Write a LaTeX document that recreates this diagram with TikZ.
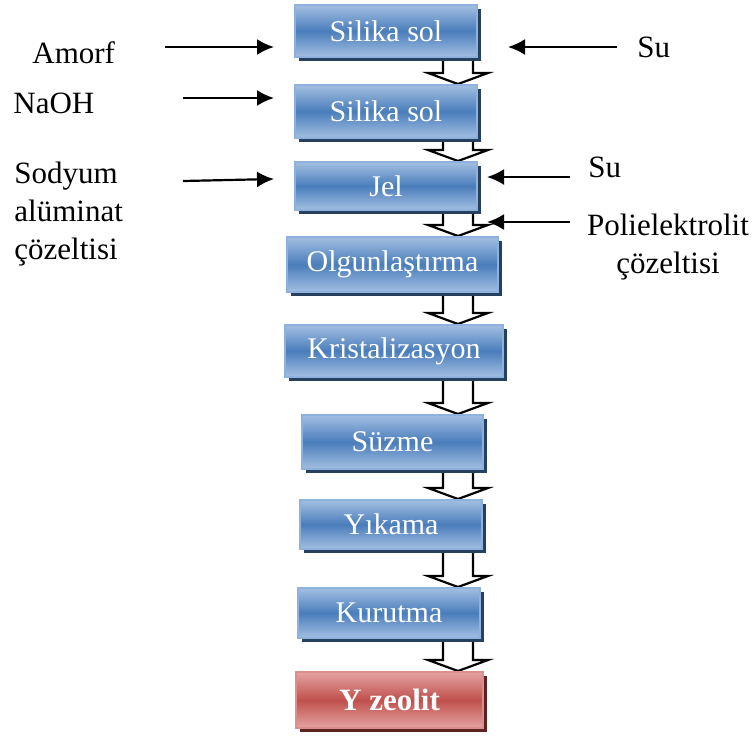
\documentclass[tikz,border=0pt]{standalone}
\usepackage{fontspec}
\setmainfont{Liberation Serif}
\usetikzlibrary{shadows,arrows.meta,backgrounds,calc}

\definecolor{kutuust}{HTML}{A3BFE2}
\definecolor{kutuorta}{HTML}{4A7DBB}
\definecolor{kutukenar}{HTML}{8EB1DD}
\definecolor{kutugolge}{HTML}{26405F}
\definecolor{sonucust}{HTML}{E4A3A2}
\definecolor{sonucorta}{HTML}{C0504D}
\definecolor{sonuckenar}{HTML}{DB8E8C}
\definecolor{sonucgolge}{HTML}{5E2321}

\tikzset{
	taban/.style={line width=1pt, inner sep=0pt, text=white},
	kutu/.style={taban, draw=kutukenar, top color=kutuust, bottom color=kutuust, middle color=kutuorta,
		font=\fontsize{15}{18}\selectfont,
		drop shadow={shadow xshift=2pt, shadow yshift=-2pt, fill=kutugolge, opacity=1}},
	sonuc/.style={taban, draw=sonuckenar, top color=sonucust, bottom color=sonucust, middle color=sonucorta,
		font=\fontsize{15.5}{18}\selectfont\bfseries,
		drop shadow={shadow xshift=2pt, shadow yshift=-2pt, fill=sonucgolge, opacity=1}},
	etiket/.style={inner sep=0pt, font=\fontsize{15.5}{19}\selectfont},
	giris/.style={line width=1.1pt, -{Latex[length=8.5pt,width=8pt]}},
	akis/.style={line width=1.1pt, fill=white}
}

% icı bos asagi ok: #1 ustteki kutu, #2 alttaki kutu
\newcommand{\akisok}[2]{%
	\draw[akis] (sl |- #1.center) -- ($(sl |- #2.north)+(0,-11)$) -- ($(hl |- #2.north)+(0,-11)$)
		-- (hm |- #2.north) -- ($(hr |- #2.north)+(0,-11)$) -- ($(sr |- #2.north)+(0,-11)$)
		-- (sr |- #1.center) -- cycle;}

\begin{document}
\begin{tikzpicture}[x=0.5pt, y=-0.5pt]
	\useasboundingbox (0,0) rectangle (756,735);

	% akis kutulari
	\node (k1) at (386,31) [kutu, minimum width=91pt, minimum height=26pt] {Silika sol};
	\node (k2) at (386,111.5) [kutu, minimum width=91pt, minimum height=26.5pt] {Silika sol};
	\node (k3) at (386,186) [kutu, minimum width=91pt, minimum height=24pt] {Jel};
	\node (k4) at (392.5,264.5) [kutu, minimum width=105.5pt, minimum height=27.5pt] {Olgunlaştırma};
	\node (k5) at (394,351) [kutu, minimum width=109pt, minimum height=26pt] {Kristalizasyon};
	\node (k6) at (392.5,442) [kutu, minimum width=90.5pt, minimum height=27pt] {Süzme};
	\node (k7) at (391,524.5) [kutu, minimum width=91pt, minimum height=24.5pt] {Yıkama};
	\node (k8) at (389,613) [kutu, minimum width=91pt, minimum height=25pt] {Kurutma};
	\node (k9) at (389.5,700) [sonuc, minimum width=93.5pt, minimum height=28pt] {Y zeolit};

	% girdiler
	\node (amorf) at (32,63) [etiket, anchor=base west] {Amorf};
	\node (naoh) at (13,113) [etiket, anchor=base west] {NaOH};
	\node (sodyum) at (14,214) [etiket, anchor=west, align=left] {Sodyum\\alüminat\\çözeltisi};
	\node (su1) at (637,57) [etiket, anchor=base west] {Su};
	\node (su2) at (588,177) [etiket, anchor=base west] {Su};
	\node (poli) at (668,247) [etiket, align=center] {Polielektrolit\\çözeltisi};

	\coordinate (a1) at (165,47);  \coordinate (a2) at (274,47);
	\coordinate (n1) at (183,98);  \coordinate (n2) at (274,98);
	\coordinate (s1) at (183,181); \coordinate (s2) at (274,179);
	\coordinate (u1) at (617,47);  \coordinate (u2) at (508,47);
	\coordinate (v1) at (570,177); \coordinate (v2) at (487,177);
	\coordinate (p1) at (570,222); \coordinate (p2) at (487,222);
	\draw[giris] (a1) -- (a2);
	\draw[giris] (n1) -- (n2);
	\draw[giris] (s1) -- (s2);
	\draw[giris] (u1) -- (u2);
	\draw[giris] (v1) -- (v2);
	\draw[giris] (p1) -- (p2);

	% bos oklar
	\coordinate (hl) at (428,0);
	\coordinate (sl) at (443,0);
	\coordinate (hm) at (458,0);
	\coordinate (sr) at (473,0);
	\coordinate (hr) at (488,0);
	\begin{scope}[on background layer]
		\akisok{k1}{k2}
		\akisok{k2}{k3}
		\akisok{k3}{k4}
		\akisok{k4}{k5}
		\akisok{k5}{k6}
		\akisok{k6}{k7}
		\akisok{k7}{k8}
		\akisok{k8}{k9}
	\end{scope}
\end{tikzpicture}
\end{document}
